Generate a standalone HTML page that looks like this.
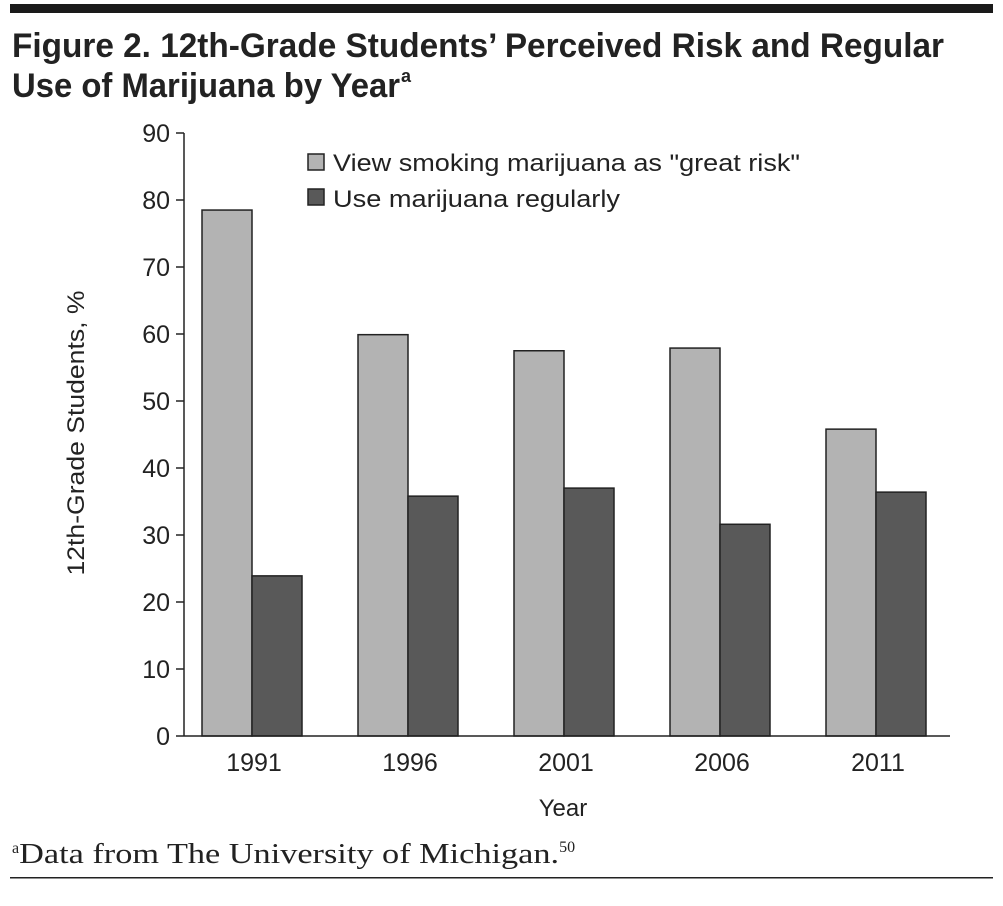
<!DOCTYPE html>
<html><head><meta charset="utf-8"><style>body{margin:0;background:#fff}svg{display:block}</style></head>
<body>
<svg width="1003" height="906" xmlns="http://www.w3.org/2000/svg" font-family="Liberation Sans, sans-serif">
<rect x="10" y="4" width="983" height="9" fill="#1a1a1a"/>
<text x="12" y="57" font-size="34" font-weight="bold" fill="#222" textLength="932" lengthAdjust="spacingAndGlyphs">Figure 2. 12th-Grade Students’ Perceived Risk and Regular</text>
<text x="12" y="97" font-size="34" font-weight="bold" fill="#222" textLength="388" lengthAdjust="spacingAndGlyphs">Use of Marijuana by Year</text>
<text x="401" y="82" font-size="18" font-weight="bold" fill="#222">a</text>
<g id="plot"></g>
<text x="563" y="816" font-size="24" text-anchor="middle" fill="#222">Year</text>
<text transform="translate(84,433) rotate(-90)" font-size="24" text-anchor="middle" fill="#222" textLength="285" lengthAdjust="spacingAndGlyphs">12th-Grade Students, %</text>
<rect x="308" y="154" width="16" height="16" fill="#b3b3b3" stroke="#222" stroke-width="1.5"/>
<text x="333" y="171" font-size="24" fill="#222" textLength="467" lengthAdjust="spacingAndGlyphs">View smoking marijuana as "great risk"</text>
<rect x="308" y="189" width="16" height="16" fill="#595959" stroke="#222" stroke-width="1.5"/>
<text x="333" y="207" font-size="24" fill="#222" textLength="287" lengthAdjust="spacingAndGlyphs">Use marijuana regularly</text>
<text x="12" y="863" font-size="28" font-family="Liberation Serif, serif" fill="#222"><tspan font-size="16" dy="-10">a</tspan><tspan dy="10" textLength="540" lengthAdjust="spacingAndGlyphs">Data from The University of Michigan.</tspan><tspan font-size="16" dy="-11">50</tspan></text>
<rect x="10" y="877" width="983" height="1.5" fill="#222"/>
</svg>
<script>
const years=['1991','1996','2001','2006','2011'];
const riskValues=[78.5,59.9,57.5,57.9,45.8];
const useValues=[23.9,35.8,37.0,31.6,36.4];
const yTicks=[0,10,20,30,40,50,60,70,80,90];
const NS='http://www.w3.org/2000/svg';
const g=document.getElementById('plot');
const y0=736,yTop=133,yMax=90;
const yScale=v=>y0-(v/yMax)*(y0-yTop);
const xBand=i=>202+i*156;
const bw=50;
function mk(t,a){const e=document.createElementNS(NS,t);for(const k in a)e.setAttribute(k,a[k]);g.appendChild(e);return e;}
yTicks.forEach(t=>{
  const l=mk('line',{x1:176,x2:184,y1:yScale(t),y2:yScale(t),stroke:'#222','stroke-width':1.5});
  
  
  const tx=mk('text',{x:170,y:yScale(t)+9,'font-size':25,'text-anchor':'end',fill:'#222'});
  tx.textContent=t;
  
  
});
years.forEach((yr,i)=>{
  const x=xBand(i);
  const r1=mk('rect',{x:x,y:yScale(riskValues[i]),width:bw,height:y0-yScale(riskValues[i]),fill:'#b3b3b3',stroke:'#222','stroke-width':1.5});
  
  
  const r2=mk('rect',{x:x+bw,y:yScale(useValues[i]),width:bw,height:y0-yScale(useValues[i]),fill:'#595959',stroke:'#222','stroke-width':1.5});
  
  
  const tx=mk('text',{x:x+bw+2,y:771,'font-size':25,'text-anchor':'middle',fill:'#222'});
  tx.textContent=yr;
  
  
});
const ya=mk('line',{x1:184,x2:184,y1:yTop,y2:y0,stroke:'#222','stroke-width':1.5});


const xa=mk('line',{x1:184,x2:950,y1:y0,y2:y0,stroke:'#222','stroke-width':1.5});


</script>
</body></html>
